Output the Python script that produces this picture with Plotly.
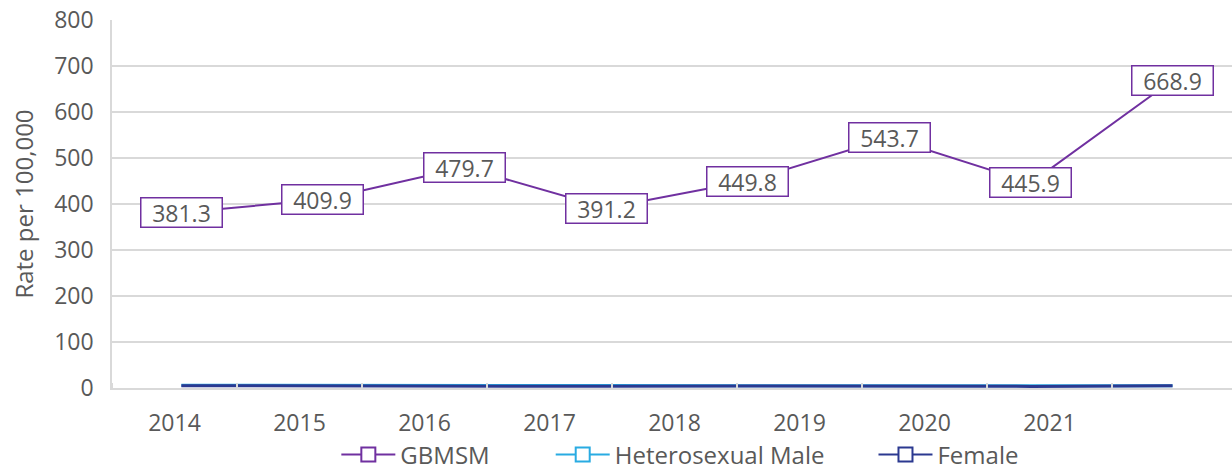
import plotly.graph_objects as go

# Reporting years shown on the category axis (nine slots, last one blank)
year_labels = ["2014", "2015", "2016", "2017", "2018", "2019", "2020", "2021", ""]

# Rate per 100,000 by group (eight yearly observations)
gbmsm = [381.3, 409.9, 479.7, 391.2, 449.8, 543.7, 445.9, 668.9]
hetero_male = [5.9, 6.2, 5.6, 5.2, 4.9, 5.4, 4.4, 5.1]
female = [5.0, 4.4, 3.8, 3.7, 4.6, 4.0, 3.5, 4.8]

PURPLE = "#7030A0"
LIGHT_BLUE = "#29ABE2"
NAVY = "#2B3990"
TEXT = "#595959"
GRID = "#D9D9D9"
FONT = "Open Sans"

# x positions: each observation sits in the middle of one of eight equal bands
n_obs = len(gbmsm)
x_obs = [i + 0.5 for i in range(n_obs)]
x_range = [0.01, 7.92]
# the year labels are laid out over nine equal bands spanning the same width
slot = (x_range[1] - x_range[0]) * 125 / 1120
x_labels = [x_range[0] + (j + 0.5) * slot for j in range(len(year_labels))]

fig = go.Figure()

# draw order: light blue under navy, purple on top
for name, vals, color, w in [
    ("Heterosexual Male", hetero_male, LIGHT_BLUE, 3),
    ("Female", female, NAVY, 3),
    ("GBMSM", gbmsm, PURPLE, 2),
]:
    fig.add_trace(go.Scatter(
        x=x_obs, y=vals, mode="lines", name=name,
        line=dict(color=color, width=w), showlegend=False,
        hoverinfo="x+y",
    ))

# legend keys: open square on a short line, each in its own legend box
legend_keys = [
    ("GBMSM", PURPLE, "legend", 0.273),
    ("Heterosexual Male", LIGHT_BLUE, "legend2", 0.447),
    ("Female", NAVY, "legend3", 0.709),
]
for name, color, lg, _ in legend_keys:
    fig.add_trace(go.Scatter(
        x=[None], y=[None], mode="lines+markers", name=name, legend=lg,
        line=dict(color=color, width=2),
        marker=dict(symbol="square", size=14, color="white",
                    line=dict(color=color, width=2)),
    ))

# boxed value labels on the GBMSM series
for x, v in zip(x_obs, gbmsm):
    fig.add_annotation(
        x=x, y=v, text=f"{v:.1f}", showarrow=False,
        xanchor="center", yanchor="middle",
        font=dict(family=FONT, size=23, color=TEXT),
        bgcolor="white", bordercolor=PURPLE, borderwidth=1.5,
        borderpad=1, width=78, height=26,
    )

legend_style = dict(
    orientation="h", xref="container", yref="container",
    y=0.032, yanchor="middle", xanchor="left",
    font=dict(family=FONT, size=24, color=TEXT),
    bgcolor="rgba(0,0,0,0)", itemwidth=54,
)
layout_legends = {}
for name, color, lg, xpos in legend_keys:
    layout_legends[lg] = dict(legend_style, x=xpos)

fig.update_layout(
    width=1232, height=470,
    margin=dict(l=112, r=0, t=20, b=82, autoexpand=False),
    paper_bgcolor="white", plot_bgcolor="white",
    font=dict(family=FONT, color=TEXT),
    **layout_legends,
    xaxis=dict(
        range=x_range, tickmode="array", tickvals=x_labels, ticktext=year_labels,
        showgrid=False, zeroline=False, showline=True, linecolor=GRID, linewidth=1.5,
        ticks="", ticklabelstandoff=14,
        tickfont=dict(family=FONT, size=23, color=TEXT),
        minor=dict(ticks="inside", ticklen=5, tickcolor=GRID, tickwidth=1.5,
                   tick0=x_range[0], dtick=slot, showgrid=False),
    ),
    yaxis=dict(
        range=[0, 800], dtick=100, showgrid=True, gridcolor=GRID, gridwidth=1.5,
        zeroline=False, showline=True, linecolor=GRID, linewidth=1.5,
        ticks="", ticklabelstandoff=12,
        tickfont=dict(family=FONT, size=23, color=TEXT),
        title=dict(text="Rate per 100,000", standoff=14,
                   font=dict(family=FONT, size=24, color=TEXT)),
    ),
)

fig.write_html("out.html")
